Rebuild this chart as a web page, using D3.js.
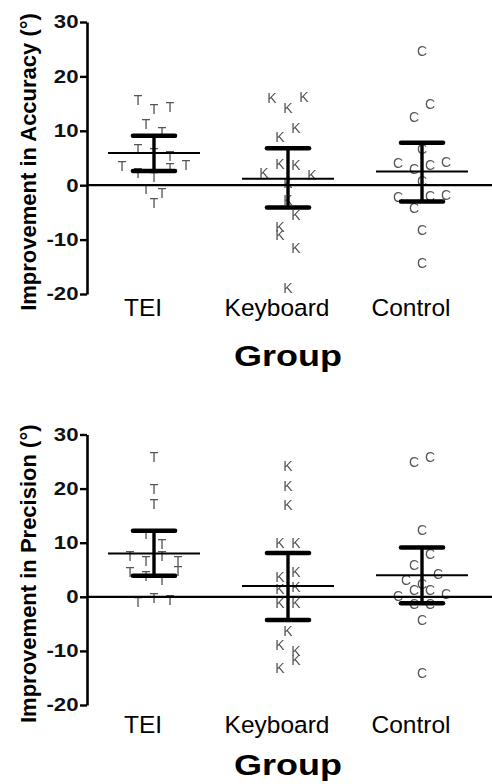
<!DOCTYPE html>
<html>
<head>
<meta charset="utf-8">
<script src="https://cdn.jsdelivr.net/npm/d3@7/dist/d3.min.js"></script>
<style>
  html, body { margin: 0; padding: 0; background: #fff; }
  svg { display: block; }
</style>
</head>
<body>
<svg id="chart" width="492" height="784"></svg>
<script>
// ---------------- DATA ----------------
const categories = ["TEI", "Keyboard", "Control"];
const markerLetters = ["T", "K", "C"];
const yTicks = [-20, -10, 0, 10, 20, 30];
const xTitle = "Group";

// Panel 1: Improvement in Accuracy (°)
const accTEI      = [15.6, 14.0, 14.3, 11.2, 9.7, 6.6, 6.0, 5.3, 3.5, 2.2, 1.5, 3.1, 3.7, -0.7, -1.5, -3.2];
const accKeyboard = [16.0, 14.2, 16.2, 8.8, 10.5, 2.2, 3.9, 3.7, 1.8, 0.4, -2.8, -7.7, -5.5, -9.2, -11.5, -18.9];
const accControl  = [24.6, 12.6, 14.9, 6.7, 4.0, 2.9, 3.7, 4.2, 0.7, -2.2, -4.1, -2.0, -1.8, -8.3, -14.3];
const accMean = [5.9, 1.2, 2.5];
const accLow  = [2.6, -4.1, -3.0];
const accHigh = [9.1, 6.8, 7.8];

// Panel 2: Improvement in Precision (°)
const precTEI      = [25.8, 20.0, 17.1, 11.7, 9.7, 7.5, 6.6, 7.5, 6.6, 4.5, 3.8, 3.2, 4.7, -1.0, -0.2, -0.5];
const precKeyboard = [24.1, 20.4, 16.9, 9.9, 9.9, 3.6, 4.5, 1.4, 1.8, -1.2, -1.2, -6.4, -8.9, -10.1, -13.2, -11.7];
const precControl  = [24.9, 25.8, 12.3, 5.8, 7.9, 3.2, 2.3, 4.3, 0.1, 1.2, 1.2, 0.5, -1.3, -1.3, -4.2, -14.0];
const precMean = [8.0, 2.0, 4.0];
const precLow  = [3.9, -4.3, -1.2];
const precHigh = [12.2, 8.1, 9.1];

// ---------------- DRAWING ----------------
const svg = d3.select("#chart");
const W = 492;
const SX = 1.2; // horizontal stretch of the bold labels

// grayscale rendering of the marker letters
svg.append("defs").append("filter")
  .attr("id", "gray")
  .attr("x", "-10%").attr("y", "-10%").attr("width", "120%").attr("height", "120%")
  .append("feColorMatrix")
  .attr("type", "saturate").attr("values", 0);

const x = d3.scalePoint().domain(categories).range([154, 422]);

function spread(values, y, cx) {
  // Prism-like row spreading: points whose y are within a symbol height share a row
  const idx = values.map((v, i) => i).sort((a, b) => (values[b] - values[a]) || (a - b));
  const rows = [];
  let cur = null;
  idx.forEach(i => {
    const py = y(values[i]);
    if (!cur || py - cur.start > 13) { cur = { start: py, members: [] }; rows.push(cur); }
    cur.members.push(i);
  });
  const out = [];
  rows.forEach(r => {
    const m = r.members.slice().sort((a, b) => a - b);
    const n = m.length;
    m.forEach((i, k) => out.push({ v: values[i], x: cx + (k - (n - 1) / 2) * 16, y: y(values[i]) }));
  });
  return out;
}

function panel(cfg) {
  const g = svg.append("g");
  const y = d3.scaleLinear().domain([-20, 30]).range(cfg.range);
  const axisX = 87;

  // y axis
  const ax = g.append("g")
    .attr("transform", `translate(${axisX},0)`)
    .call(d3.axisLeft(y).tickValues(yTicks).tickSize(7).tickSizeOuter(0).tickPadding(1)
      .tickFormat(d => d < 0 ? "-" + Math.abs(d) : d));
  ax.select(".domain").attr("stroke", "#000").attr("stroke-width", 2.6);
  ax.selectAll(".tick line").attr("stroke", "#000").attr("stroke-width", 2.4);
  ax.selectAll(".tick text")
    .attr("fill", "#111")
    .attr("x", -8.5 / SX)
    .attr("transform", `scale(${SX},1)`)
    .style("font-family", "'Liberation Sans', Arial, sans-serif")
    .style("font-weight", "bold")
    .style("font-size", "18.5px");

  // y title
  g.append("text")
    .attr("transform", `translate(36,${(cfg.range[0] + cfg.range[1]) / 2 + 4}) rotate(-90)`)
    .attr("text-anchor", "middle")
    .style("font-family", "'Liberation Sans', Arial, sans-serif")
    .style("font-weight", "bold")
    .style("font-size", "22px")
    .attr("fill", "#000")
    .text(cfg.title);

  // points
  const pg = g.append("g").attr("filter", "url(#gray)");
  cfg.series.forEach((vals, gi) => {
    const pts = spread(vals, y, x(categories[gi]));
    pg.append("g")
      .selectAll("text")
      .data(pts).join("text")
      .attr("x", d => d.x)
      .attr("y", d => d.y)
      .attr("dy", "0.36em")
      .attr("text-anchor", "middle")
      .style("font-family", "'Liberation Sans', Arial, sans-serif")
      .style("font-size", "14px")
      .attr("fill", "#555")
      .text(markerLetters[gi]);
  });

  // zero line
  g.append("line")
    .attr("x1", axisX).attr("x2", W)
    .attr("y1", y(0)).attr("y2", y(0))
    .attr("stroke", "#000").attr("stroke-width", 2.2);

  // mean and error bars
  categories.forEach((c, i) => {
    const cx = x(c);
    g.append("line")
      .attr("x1", cx - 46).attr("x2", cx + 46)
      .attr("y1", y(cfg.mean[i])).attr("y2", y(cfg.mean[i]))
      .attr("stroke", "#000").attr("stroke-width", 2);
    g.append("line")
      .attr("x1", cx).attr("x2", cx)
      .attr("y1", y(cfg.low[i])).attr("y2", y(cfg.high[i]))
      .attr("stroke", "#000").attr("stroke-width", 3.4);
    [cfg.low[i], cfg.high[i]].forEach(v => {
      g.append("line")
        .attr("x1", cx - 21).attr("x2", cx + 21)
        .attr("y1", y(v)).attr("y2", y(v))
        .attr("stroke", "#000").attr("stroke-width", 4.6)
        .attr("stroke-linecap", "round");
    });
  });

  // category labels
  g.append("g").selectAll("text")
    .data(categories).join("text")
    .attr("x", d => x(d) - 11)
    .attr("y", cfg.labelY)
    .attr("text-anchor", "middle")
    .style("font-family", "'Liberation Sans', Arial, sans-serif")
    .style("font-size", "24.5px")
    .attr("fill", "#000")
    .text(d => d);

  // x title
  g.append("text")
    .attr("x", x("Keyboard") / SX)
    .attr("y", cfg.titleY)
    .attr("transform", `scale(${SX},1)`)
    .attr("text-anchor", "middle")
    .style("font-family", "'Liberation Sans', Arial, sans-serif")
    .style("font-weight", "bold")
    .style("font-size", "30px")
    .attr("fill", "#000")
    .text(xTitle);
}

panel({
  range: [294, 22],
  title: "Improvement in Accuracy (°)",
  series: [accTEI, accKeyboard, accControl],
  mean: accMean, low: accLow, high: accHigh,
  labelY: 316, titleY: 366
});

panel({
  range: [705, 434.5],
  title: "Improvement in Precision (°)",
  series: [precTEI, precKeyboard, precControl],
  mean: precMean, low: precLow, high: precHigh,
  labelY: 733, titleY: 775
});
</script>
</body>
</html>
